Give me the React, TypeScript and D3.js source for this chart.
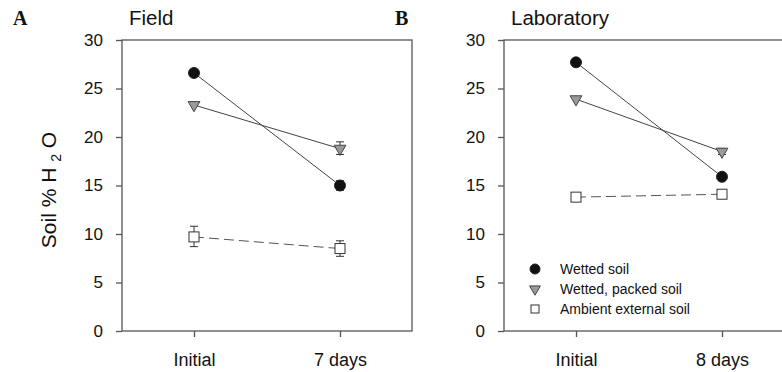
import React, { useRef, useEffect } from "react";
import * as d3 from "d3";

const seriesNames = ["Wetted soil", "Wetted, packed soil", "Ambient external soil"];
const fieldDays = ["Initial", "7 days"];
const labDays = ["Initial", "8 days"];
const yTicks = [0, 5, 10, 15, 20, 25, 30];

// [value, errLow, errHigh] per time point
const fieldWetted = [[26.6, 26.6, 26.6], [15.0, 14.5, 15.5]];
const fieldPacked = [[23.3, 23.3, 23.3], [18.8, 18.2, 19.5]];
const fieldAmbient = [[9.7, 8.7, 10.8], [8.5, 7.7, 9.3]];
const labWetted = [[27.7, 27.7, 27.7], [15.9, 15.9, 15.9]];
const labPacked = [[23.9, 23.9, 23.9], [18.5, 18.2, 18.8]];
const labAmbient = [[13.8, 13.8, 13.8], [14.1, 14.1, 14.1]];

const W = 782;
const H = 372;
const FONT = "'Liberation Sans', Arial, sans-serif";

const App = () => {
  const svgRef = useRef<SVGSVGElement>(null);

  useEffect(() => {
    const svg = d3.select(svgRef.current);
    svg.selectAll("*").remove();

    const panels = [
      { letter: "A", title: "Field", left: 122, days: fieldDays, series: [fieldWetted, fieldPacked, fieldAmbient], legend: false },
      { letter: "B", title: "Laboratory", left: 504, days: labDays, series: [labWetted, labPacked, labAmbient], legend: true },
    ];
    const top = 40;
    const bottom = 331;
    const pw = 290;

    const y = d3.scaleLinear().domain([0, 30]).range([bottom, top]);

    const drawMarker = (g: any, k: number, cx: number, cy: number, small = false) => {
      if (k === 0) {
        g.append("circle").attr("cx", cx).attr("cy", cy).attr("r", small ? 5 : 5.5)
          .attr("fill", "#111").attr("stroke", "#222");
      } else if (k === 1) {
        const tri = d3.symbol().type(d3.symbolTriangle).size(small ? 50 : 60);
        g.append("path").attr("d", tri)
          .attr("transform", `translate(${cx},${cy}) rotate(180)`)
          .attr("fill", "#9a9a9a").attr("stroke", "#444").attr("stroke-width", 1);
      } else {
        const s = small ? 8 : 10;
        g.append("rect").attr("x", cx - s / 2).attr("y", cy - s / 2).attr("width", s).attr("height", s)
          .attr("fill", "#fff").attr("stroke", "#333").attr("stroke-width", 1);
      }
    };

    panels.forEach((p) => {
      const g = svg.append("g");
      const x = d3.scalePoint().domain(p.days).range([p.left + 72, p.left + 218]);

      // frame
      g.append("rect").attr("x", p.left).attr("y", top).attr("width", pw).attr("height", bottom - top)
        .attr("fill", "none").attr("stroke", "#555").attr("stroke-width", 1.3);

      const yAxis = g.append("g").attr("transform", `translate(${p.left},0)`)
        .call(d3.axisLeft(y).tickValues(yTicks).tickSize(6).tickPadding(13));
      yAxis.select(".domain").remove();
      yAxis.selectAll("line").attr("stroke", "#555").attr("stroke-width", 1.3);
      yAxis.selectAll("text").attr("font-family", FONT).attr("font-size", 17).attr("fill", "#111");

      const xAxis = g.append("g").attr("transform", `translate(0,${bottom})`)
        .call(d3.axisBottom(x).tickSize(6).tickPadding(16));
      xAxis.select(".domain").remove();
      xAxis.selectAll("line").attr("stroke", "#555").attr("stroke-width", 1.3);
      xAxis.selectAll("text").attr("font-family", FONT).attr("font-size", 18).attr("fill", "#111");

      g.append("text").attr("x", p.left - 109).attr("y", 25)
        .attr("font-family", "'Liberation Serif', 'Times New Roman', serif").attr("font-weight", "bold")
        .attr("font-size", 20).attr("fill", "#111").text(p.letter);
      g.append("text").attr("x", p.left + 7).attr("y", 25)
        .attr("font-family", FONT).attr("font-size", 20.5).attr("fill", "#111").text(p.title);

      const line = d3.line<number[]>().x((d, i) => x(p.days[i]) as number).y((d) => y(d[0]));

      p.series.forEach((s, k) => {
        g.append("path").datum(s).attr("d", line).attr("fill", "none")
          .attr("stroke", k === 2 ? "#555" : "#444").attr("stroke-width", 1)
          .attr("stroke-dasharray", k === 2 ? "10,5" : null);
        s.forEach((d, i) => {
          const cx = x(p.days[i]) as number;
          if (d[2] - d[1] > 0.3) {
            g.append("line").attr("x1", cx).attr("x2", cx).attr("y1", y(d[1])).attr("y2", y(d[2]))
              .attr("stroke", "#333");
            [d[1], d[2]].forEach((v) => {
              g.append("line").attr("x1", cx - 4).attr("x2", cx + 4).attr("y1", y(v)).attr("y2", y(v))
                .attr("stroke", "#333");
            });
          }
        });
      });
      // markers on top
      p.series.forEach((s, k) => {
        s.forEach((d, i) => drawMarker(g, k, x(p.days[i]) as number, y(d[0])));
      });

      if (p.legend) {
        const lg = g.append("g");
        seriesNames.forEach((name, k) => {
          const ly = 269 + k * 20;
          drawMarker(lg, k, p.left + 31, ly, true);
          lg.append("text").attr("x", p.left + 56).attr("y", ly + 5)
            .attr("font-family", FONT).attr("font-size", 14).attr("fill", "#111").text(name);
        });
      }
    });

    // y label
    const lab = svg.append("text")
      .attr("transform", `translate(56,190) rotate(-90)`)
      .attr("text-anchor", "middle")
      .attr("font-family", FONT).attr("font-size", 21).attr("fill", "#111");
    lab.append("tspan").text("Soil % H ");
    lab.append("tspan").attr("font-size", 14).attr("dy", 5).text("2");
    lab.append("tspan").attr("dy", -5).text(" O");
  }, []);

  return (
    <div style={{ position: "absolute", left: 0, top: 0, background: "#fff" }}>
      <svg ref={svgRef} width={W} height={H} style={{ display: "block" }}></svg>
    </div>
  );
};

export default App;
